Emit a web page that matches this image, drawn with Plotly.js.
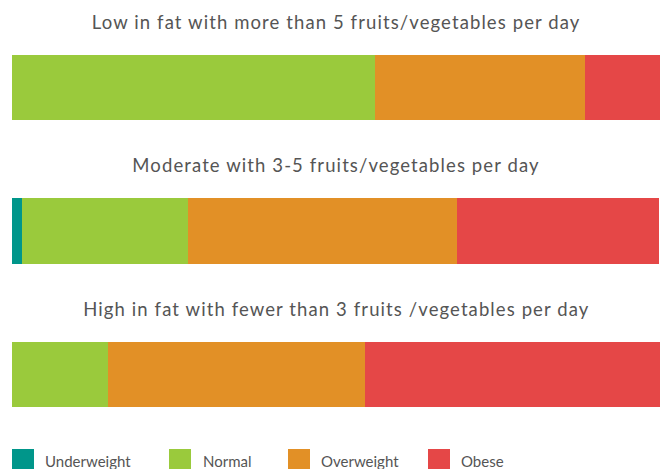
<!DOCTYPE html>
<html>
<head>
<meta charset="utf-8">
<script src="https://cdn.plot.ly/plotly-3.0.1.min.js"></script>
<style>
  html, body { margin: 0; padding: 0; background: #fff; }
  #chart { width: 661px; height: 469px; }
</style>
</head>
<body>
<div id="chart"></div>
<script>
// ---- data ----
const categories = [
  "Low in fat with more than 5 fruits/vegetables per day",
  "Moderate with 3-5 fruits/vegetables per day",
  "High in fat with fewer than 3 fruits /vegetables per day"
];
const seriesNames = ["Underweight", "Normal", "Overweight", "Obese"];
const underweight = [0, 1.5, 0];
const normal      = [56.0, 25.6, 14.8];
const overweight  = [32.4, 41.5, 39.7];
const obese       = [11.6, 31.3, 45.5];
const seriesColors = ["#00968A", "#9ACA3C", "#E29026", "#E54747"];

// ---- layout helpers ----
const W = 661, H = 469;
const plotL = 12, plotR = 660;
const px = x => (x - plotL) / (plotR - plotL);
const py = y => 1 - y / H;

const seriesValues = [underweight, normal, overweight, obese];
const yAxisIds = ["y", "y2", "y3"];
const barPix = [[55, 120], [198, 264], [342, 407]];
const titlePix = [22, 165, 309];

const traces = [];
categories.forEach((cat, i) => {
  seriesValues.forEach((vals, s) => {
    traces.push({
      type: "bar",
      orientation: "h",
      x: [vals[i]],
      y: [0],
      xaxis: "x",
      yaxis: yAxisIds[i],
      name: seriesNames[s],
      marker: { color: seriesColors[s], line: { width: 0 } },
      showlegend: false,
      hoverinfo: "x+name"
    });
  });
});

const font = "Lato, 'Open Sans', sans-serif";
const annotations = categories.map((cat, i) => ({
  text: cat,
  xref: "paper", yref: "paper",
  x: 0.5, y: py(titlePix[i]),
  xanchor: "center", yanchor: "middle", align: "center",
  showarrow: false,
  font: { family: font, size: 18.5, color: "#555555" }
}));

const legendSquareX = [12, 169, 288, 428];
const legendTextX = [43, 201, 319, 459];
const shapes = [];
seriesNames.forEach((nm, s) => {
  shapes.push({
    type: "rect", xref: "paper", yref: "paper",
    x0: px(legendSquareX[s]), x1: px(legendSquareX[s] + 22),
    y0: py(470), y1: py(449),
    fillcolor: seriesColors[s], line: { width: 0 }
  });
  annotations.push({
    text: nm, xref: "paper", yref: "paper",
    x: px(legendTextX[s]), y: py(461),
    xanchor: "left", yanchor: "middle", align: "left",
    showarrow: false,
    font: { family: font, size: 15, color: "#555555" }
  });
});

const hiddenY = d => ({
  domain: d, range: [-0.5, 0.5], fixedrange: true,
  showticklabels: false, showgrid: false, zeroline: false, showline: false,
  anchor: "x"
});

const layout = {
  width: W, height: H,
  margin: { l: plotL, r: W - plotR, t: 0, b: 0, pad: 0 },
  paper_bgcolor: "#ffffff", plot_bgcolor: "#ffffff",
  barmode: "stack", bargap: 0,
  showlegend: false,
  xaxis: { range: [0, 100], fixedrange: true, visible: false, showgrid: false, zeroline: false },
  yaxis:  hiddenY([py(barPix[0][1]), py(barPix[0][0])]),
  yaxis2: hiddenY([py(barPix[1][1]), py(barPix[1][0])]),
  yaxis3: hiddenY([py(barPix[2][1]), py(barPix[2][0])]),
  annotations: annotations,
  shapes: shapes,
  font: { family: font, color: "#555555" }
};

Plotly.newPlot("chart", traces, layout, { displayModeBar: false, staticPlot: true }).then(gd => {
  // widen tracking of the title texts to mimic the original humanist face
  gd.querySelectorAll(".annotation-text").forEach((t, i) => {
    if (i < categories.length) t.style.letterSpacing = "1.1px";
  });
});
</script>
</body>
</html>
